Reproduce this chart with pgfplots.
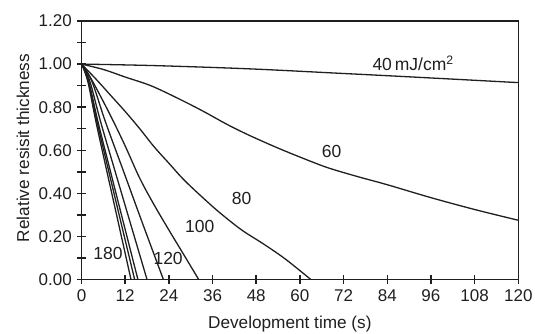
\documentclass[border=0pt]{standalone}
\usepackage{fontspec}
\setmainfont{Liberation Sans}
\usepackage{pgfplots}
\pgfplotsset{compat=1.18}
\definecolor{ink}{gray}{0.12}
\begin{document}
\begin{tikzpicture}
\begin{axis}[
  at={(0,0)}, anchor=south west,
  scale only axis, width=436.8pt, height=258.5pt,
  xmin=0, xmax=120, ymin=0, ymax=1.2,
  xtick={0,12,24,36,48,60,72,84,96,108,120},
  ytick={0,0.2,0.4,0.6,0.8,1.0,1.2},
  minor ytick={0.1,0.3,0.5,0.7,0.9,1.1},
  yticklabel style={/pgf/number format/fixed, /pgf/number format/fixed zerofill, /pgf/number format/precision=2, xshift=-2pt},
  /pgf/number format/assume math mode=true,
  tick align=center, tick pos=left,
  major tick length=8.5pt, minor tick length=8pt,
  major tick style={ink, line width=1.5pt},
  minor tick style={ink, line width=1.5pt},
  axis line style={ink, line width=1.5pt},
  tick label style={font=\fontsize{17}{17}\selectfont, text=ink},
  xticklabel style={yshift=-2pt},
  xlabel={Development time (s)},
  ylabel={Relative resisit thickness},
  label style={font=\fontsize{17.2}{17.2}\selectfont, text=ink},
  xlabel style={at={(axis description cs:0.477,-0.172)}, anchor=center},
  ylabel style={at={(axis description cs:-0.134,0.509)}, anchor=center},
  cycle list={ink,solid,mark=none,line width=1.3pt\\},
  every axis plot/.append style={smooth, tension=0.55},
  clip=false,
]
% 40 mJ/cm2
\addplot coordinates {(0,1) (20,0.993) (46,0.978) (70,0.958) (83,0.947) (100,0.932) (120,0.914)};
% 60
\addplot coordinates {(0,1) (6,0.975) (12,0.94) (19,0.9) (26,0.845) (33,0.785) (40,0.72) (46,0.67) (54,0.61) (62,0.555) (68,0.517) (76,0.477) (84,0.44) (96,0.38) (108,0.325) (120,0.275)};
% 80
\addplot coordinates {(0,1) (4,0.93) (8,0.855) (12,0.78) (16,0.70) (20,0.615) (24,0.54) (28,0.465) (33,0.385) (38,0.31) (44,0.23) (50,0.165) (56,0.095) (63,0)};
% 100
\addplot coordinates {(0,1) (2,0.95) (4,0.89) (8,0.76) (12,0.62) (16,0.47) (20,0.345) (24,0.23) (28,0.118) (32.2,0)};
% 120
\addplot coordinates {(0,1) (1.67,0.96) (3.31,0.9) (6.62,0.73) (11.6,0.5) (17.0,0.25) (22.5,0)};
% 140
\addplot coordinates {(0,1) (1.33,0.96) (2.65,0.9) (5.29,0.73) (9.27,0.5) (13.63,0.25) (18.0,0)};
% 150
\addplot coordinates {(0,1) (1.15,0.96) (2.28,0.9) (4.56,0.73) (7.98,0.5) (11.73,0.25) (15.5,0)};
% 160
\addplot coordinates {(0,1) (1.08,0.96) (2.15,0.9) (4.29,0.73) (7.52,0.5) (11.05,0.25) (14.6,0)};
% 180
\addplot coordinates {(0,1) (1.0,0.96) (2.0,0.9) (4.0,0.73) (7.0,0.5) (10.3,0.25) (13.6,0)};
\begin{scope}[font=\fontsize{17.5}{17.5}\selectfont, text=ink]
\node at (axis cs:91.1,1.005) {40\,mJ/cm\textsuperscript{2}};
\node at (axis cs:68.7,0.593) {60};
\node at (axis cs:44.0,0.377) {80};
\node at (axis cs:32.5,0.245) {100};
\node at (axis cs:23.8,0.098) {120};
\node at (axis cs:7.3,0.12) {180};
\end{scope}
\end{axis}
\pgfresetboundingbox
\path[use as bounding box] (-81.5pt,-53.5pt) rectangle (453.5pt,279.5pt);
\end{tikzpicture}
\end{document}
